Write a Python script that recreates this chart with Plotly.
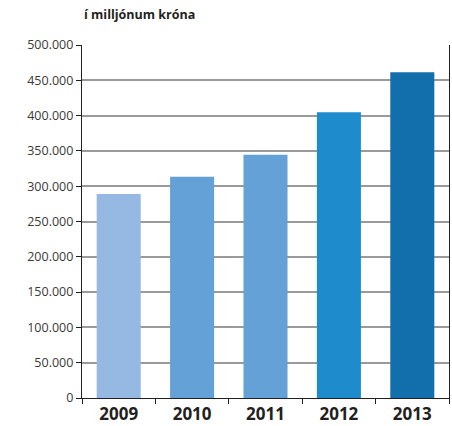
import plotly.graph_objects as go

years = ["2009", "2010", "2011", "2012", "2013"]
values = [289000, 313500, 344500, 404800, 461300]
colors = ["#96b9e3", "#64a1d6", "#64a1d6", "#1e8bcd", "#136fab"]
ytick_vals = [0, 50000, 100000, 150000, 200000, 250000, 300000, 350000, 400000, 450000, 500000]
ytick_text = ["0", "50.000", "100.000", "150.000", "200.000", "250.000", "300.000",
              "350.000", "400.000", "450.000", "500.000"]
subtitle = "í milljónum króna"

fig = go.Figure(go.Bar(x=years, y=values, marker=dict(color=colors, line=dict(width=0)),
                       hoverinfo="skip"))

fig.update_layout(
    width=452, height=426,
    margin=dict(l=82, r=3, t=45, b=28, autoexpand=False),
    paper_bgcolor="white", plot_bgcolor="white",
    bargap=0.4, showlegend=False,
    font=dict(family="Open Sans", color="#333"),
    annotations=[dict(text="<b>" + subtitle + "</b>", xref="paper", yref="paper",
                      x=0, y=1, yshift=20, xanchor="left", yanchor="bottom",
                      showarrow=False, font=dict(size=12.5, color="#231f20",
                                                 family="Open Sans"))],
)
fig.update_yaxes(range=[0, 500000], tickvals=ytick_vals, ticktext=ytick_text,
                 showgrid=True, gridcolor="#9a9a9a", gridwidth=1.6,
                 showline=True, linecolor="#231f20", linewidth=1.2, mirror=True,
                 ticks="outside", ticklen=5, tickcolor="#231f20", tickwidth=1,
                 tickfont=dict(size=12.5, color="#3a3a3a"), zeroline=False)
fig.update_xaxes(showline=True, linecolor="#231f20", linewidth=1.2,
                 ticks="outside", tickson="boundaries", ticklen=5,
                 tickcolor="#231f20", tickwidth=1,
                 tickfont=dict(size=17, color="#231f20", family="Open Sans"),
                 tickprefix="<b>", ticksuffix="</b>")

fig.write_html("out.html", config={"displayModeBar": False},
               post_script="document.body.style.margin='0';document.body.style.overflow='hidden';")
